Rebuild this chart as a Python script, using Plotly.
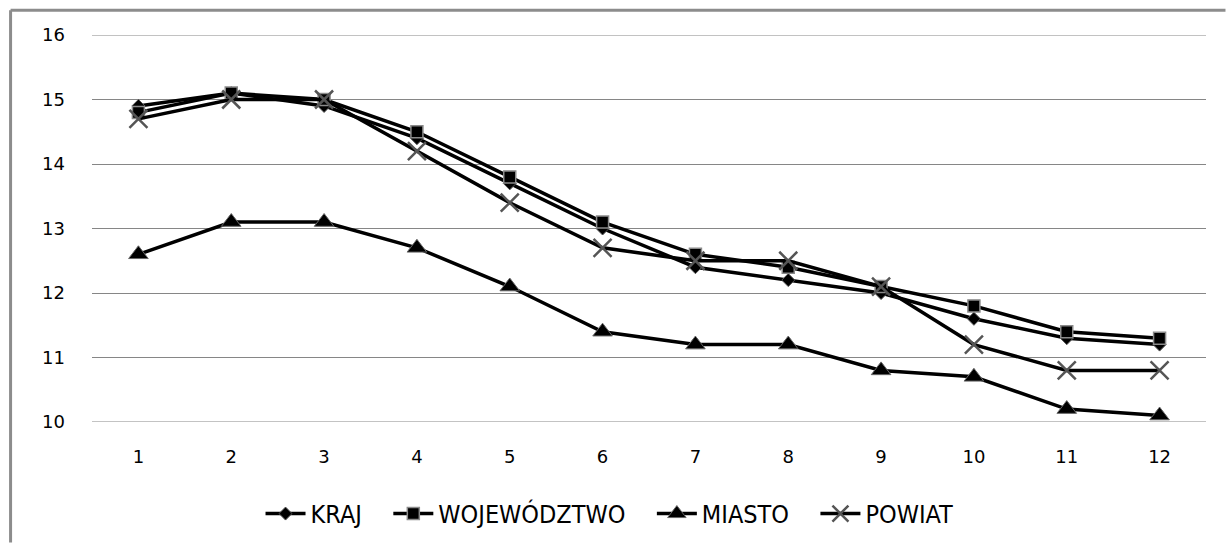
import plotly.graph_objects as go

months = ["1", "2", "3", "4", "5", "6", "7", "8", "9", "10", "11", "12"]
kraj = [14.9, 15.1, 14.9, 14.4, 13.7, 13.0, 12.4, 12.2, 12.0, 11.6, 11.3, 11.2]
wojewodztwo = [14.8, 15.1, 15.0, 14.5, 13.8, 13.1, 12.6, 12.4, 12.1, 11.8, 11.4, 11.3]
miasto = [12.6, 13.1, 13.1, 12.7, 12.1, 11.4, 11.2, 11.2, 10.8, 10.7, 10.2, 10.1]
powiat = [14.7, 15.0, 15.0, 14.2, 13.4, 12.7, 12.5, 12.5, 12.1, 11.2, 10.8, 10.8]
series_names = ["KRAJ", "WOJEWÓDZTWO", "MIASTO", "POWIAT"]
y_ticks = [10, 11, 12, 13, 14, 15, 16]

W, H = 1226, 549
L, T = 91.5, 35
PR, PB = 1206.5, 427
R, B = W - PR, H - PB
pw, ph = PR - L, PB - T

PAD = "\u00a0" * 3  # spacing between legend entries

styles = [
    dict(symbol="diamond", size=10, color="#000000", line=dict(color="#555555", width=1)),
    dict(symbol="square", size=12, color="#000000", line=dict(color="#8a8a8a", width=1.5)),
    dict(symbol="triangle-up", size=17, color="#000000", line=dict(color="#666666", width=1)),
    dict(symbol="x-thin", size=18, color="#555555", line=dict(color="#555555", width=2.5)),
]

fig = go.Figure()
for name, vals, mk in zip(series_names, [kraj, wojewodztwo, miasto, powiat], styles):
    fig.add_trace(go.Scatter(x=months, y=vals, name=name + PAD, mode="lines+markers",
                             line=dict(color="#000000", width=3.5), marker=mk))

fig.update_layout(
    width=W, height=H,
    margin=dict(l=L, r=R, t=T, b=B, pad=0),
    paper_bgcolor="white", plot_bgcolor="white",
    font=dict(family="DejaVu Sans", size=18, color="#000000"),
    showlegend=True,
    legend=dict(orientation="h", x=(620 - L) / pw, xanchor="center",
                y=(PB - 520) / ph, yanchor="middle",
                font=dict(family="DejaVu Sans Condensed, DejaVu Sans, sans-serif", size=25),
                itemwidth=40, traceorder="normal"),
    xaxis=dict(type="category", range=[-0.5, 11.5], showgrid=False, zeroline=False,
               showline=False, ticks="", ticklabelstandoff=22,
               tickfont=dict(family="DejaVu Sans", size=18)),
    yaxis=dict(range=[10, 16], tickvals=y_ticks, showgrid=True, gridcolor="#868686",
               gridwidth=1, zeroline=False, showline=False, ticks="",
               ticklabelstandoff=26, tickfont=dict(family="DejaVu Sans", size=18)),
)

# outer frame (left and top edges)
fx = (10 - L) / pw
fy_top = 1 + (T - 10) / ph
fy_bot = (PB - H) / ph
fig.add_shape(type="line", xref="paper", yref="paper", x0=fx, x1=fx, y0=fy_bot, y1=fy_top,
              line=dict(color="#8c8c8c", width=3))
fig.add_shape(type="line", xref="paper", yref="paper", x0=fx, x1=(W - L) / pw, y0=fy_top, y1=fy_top,
              line=dict(color="#8c8c8c", width=3))
for v in [10, 16]:
    fig.add_shape(type="line", xref="paper", yref="y", x0=0, x1=1, y0=v, y1=v,
                  line=dict(color="#868686", width=1), layer="below")

fig.write_html("out.html",
               config={"displayModeBar": False},
               post_script="document.body.style.margin='0';document.body.style.overflow='hidden';")
